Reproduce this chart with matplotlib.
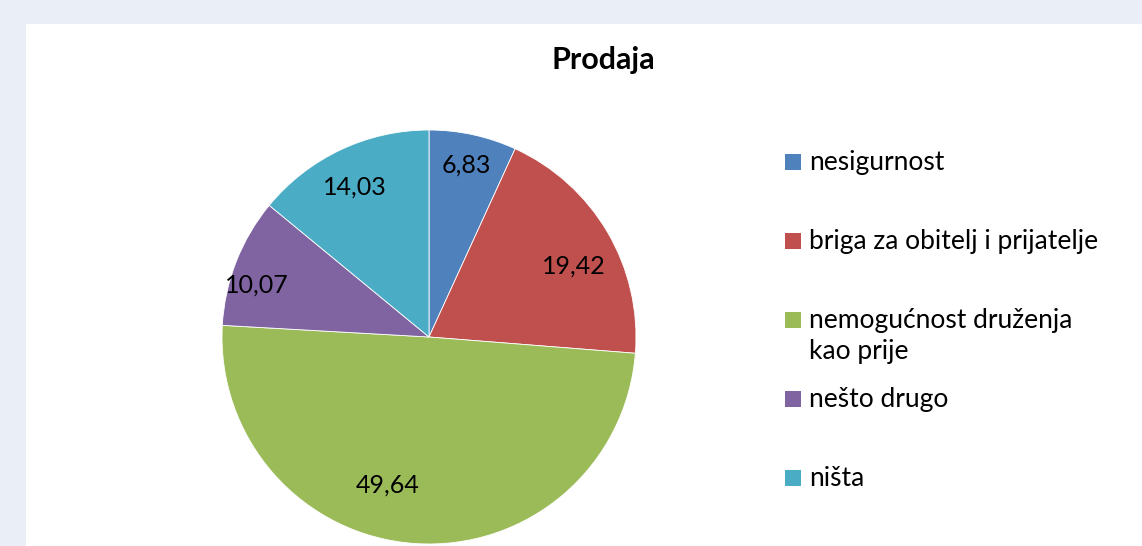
import numpy as np
import matplotlib.pyplot as plt
from matplotlib.patches import Rectangle

# -------------------------------------------------------------
# DATA
# -------------------------------------------------------------
title = 'Prodaja'
categories = ['nesigurnost', 'briga za obitelj i prijatelje',
              'nemogućnost druženja\nkao prije', 'nešto drugo', 'ništa']
values = [6.83, 19.42, 49.64, 10.07, 14.03]
colors = ['#4F81BD', '#C0504D', '#9BBB59', '#8064A2', '#4BACC6']

# label placement (radius fraction, angle nudge in degrees)
label_r = [0.85, 0.78, 0.74, 0.87, 0.81]
label_nudge = [0.0, -4.3, -11.6, 4.6, 1.1]

plt.rcParams['font.family'] = ['Lato', 'DejaVu Sans']

W, H = 1142, 546
fig = plt.figure(figsize=(W / 100, H / 100), dpi=100)
fig.patch.set_facecolor('#e9eef7')

# white chart area
fig.patches.append(Rectangle((26 / W, 0), 1 - 26 / W, 1 - 24 / H,
                             transform=fig.transFigure, facecolor='white',
                             edgecolor='none', zorder=-5))

# pie axes: centre (429, 337) px, radius 207 px
cx, cy, R = 429, 337, 207
ax = fig.add_axes([(cx - R) / W, (H - cy - R) / H, 2 * R / W, 2 * R / H])
ax.set_zorder(2)
wedges, _ = ax.pie(values, colors=colors, startangle=90, counterclock=False,
                   wedgeprops=dict(edgecolor='white', linewidth=0.6))
ax.set_xlim(-1, 1)
ax.set_ylim(-1, 1)
ax.set_aspect('equal')

for w, v, r, dn in zip(wedges, values, label_r, label_nudge):
    ang = np.deg2rad((w.theta1 + w.theta2) / 2 + dn)
    ax.text(r * np.cos(ang), r * np.sin(ang), f'{v:.2f}'.replace('.', ','),
            ha='center', va='center', fontsize=18, color='black')

fig.text(603 / W, 1 - 60 / H, title, ha='center', va='center',
         fontsize=22, fontweight='bold')

# legend drawn by hand, Excel style
lx, ly0, step, sq = 785, 162, 79, 16
for i, (lab, c) in enumerate(zip(categories, colors)):
    y = ly0 + i * step
    fig.patches.append(Rectangle((lx / W, 1 - (y + sq / 2) / H), sq / W, sq / H,
                                 transform=fig.transFigure, facecolor=c,
                                 edgecolor='none', zorder=3))
    fig.text(809 / W, 1 - (y - 12) / H, lab, ha='left', va='top',
             fontsize=19, linespacing=1.3)

plt.savefig('out.png', dpi=100)
